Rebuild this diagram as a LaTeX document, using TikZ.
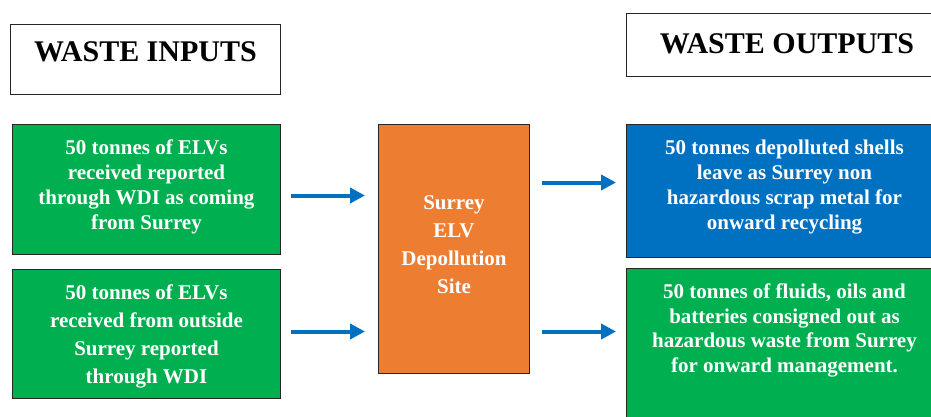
\documentclass[tikz,border=0pt]{standalone}
\usepackage{fontspec}
\setmainfont{Liberation Serif}
\usetikzlibrary{arrows.meta,calc}
\definecolor{boxgreen}{HTML}{00B050}
\definecolor{boxorange}{HTML}{ED7D31}
\definecolor{boxblue}{HTML}{0070C0}
\definecolor{arrowblue}{HTML}{0070C0}
\definecolor{edgegray}{HTML}{262626}
% #1 width, #2 height, #3 font size, #4 baselineskip, #5 first baseline offset, #6 text
\newcommand{\btxt}[6]{\begin{minipage}[c][#2pt][t]{#1pt}\centering\fontsize{#3}{#4}\selectfont\bfseries\rule{0pt}{#5pt}#6\end{minipage}}
\begin{document}
\begin{tikzpicture}[x=1pt,y=-1pt,
  box/.style={draw=edgegray, line width=1pt, inner sep=0pt, anchor=north west, text=white},
  head/.style={draw=edgegray, line width=1pt, inner sep=0pt, anchor=north west, fill=white, text=black},
  arr/.style={draw=arrowblue, line width=4pt, -{Triangle[length=15pt,width=15pt]}}]
\useasboundingbox (0,0) rectangle (931,416);
\clip (0,0) rectangle (931,416);
\fill[white] (0,0) rectangle (931,416);

\node[head] (hin) at (10,24) {\btxt{270}{70}{30}{34}{36.5}{WASTE INPUTS}};
\node[head] (hout) at (626,13) {\btxt{321}{63}{30}{34}{40}{WASTE OUTPUTS}};

\node[box, fill=boxgreen] (in1) at (12,124) {\btxt{268}{130}{21}{25}{30}{50 tonnes of ELVs\\ received reported\\ through WDI as coming\\ from Surrey}};
\node[box, fill=boxgreen] (in2) at (12,269) {\btxt{268}{129}{21}{28}{30}{50 tonnes of ELVs\\ received from outside\\ Surrey reported\\ through WDI}};
\node[box, fill=boxorange] (site) at (378,124) {\btxt{151}{249}{21}{28}{85}{Surrey\\ ELV\\ Depollution\\ Site}};
\node[box, fill=boxblue] (out1) at (626,124) {\btxt{316}{133}{21}{25}{30}{50 tonnes depolluted shells\\ leave as Surrey non\\ hazardous scrap metal for\\ onward recycling}};
\node[box, fill=boxgreen] (out2) at (626,268) {\btxt{316}{162}{21}{24.5}{30}{50 tonnes of fluids, oils and\\ batteries consigned out as\\ hazardous waste from Surrey\\ for onward management.}};

\draw[arr] ($(in1.east)+(10,6)$) -- ($(in1.east -| site.west)+(-13,6)$);
\draw[arr] ($(in2.east)+(10,-2.5)$) -- ($(in2.east -| site.west)+(-13,-2.5)$);
\draw[arr] ($(site.east |- out1.west)+(12,-8.5)$) -- ($(out1.west)+(-10,-8.5)$);
\draw[arr] ($(site.east |- out2.west)+(12,-18)$) -- ($(out2.west)+(-10,-18)$);
\end{tikzpicture}
\end{document}
